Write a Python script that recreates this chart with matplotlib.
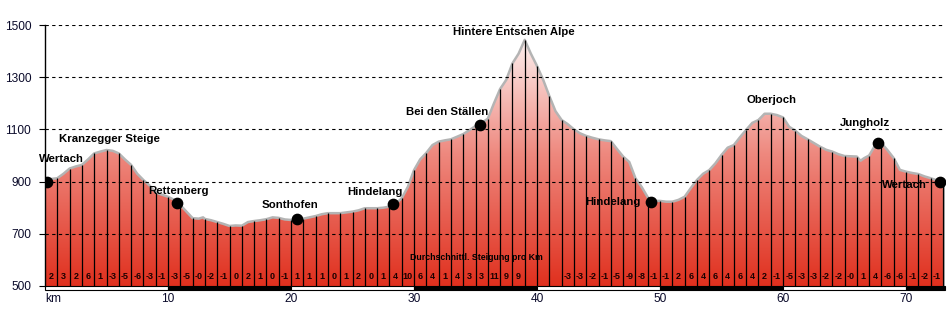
import numpy as np
import matplotlib
matplotlib.use("Agg")
import matplotlib.pyplot as plt
from matplotlib.colors import LinearSegmentedColormap
from matplotlib.patches import Polygon, Rectangle

plt.rcParams['font.family'] = ['Liberation Sans', 'DejaVu Sans']

# elevation profile (km, m)
km = [0.0, 0.5, 1.0, 1.5, 2.0, 2.5, 3.0, 3.5, 4.0, 4.5, 5.0, 5.5, 6.0, 6.5, 7.0, 7.5,
      8.0, 8.5, 9.0, 9.5, 10.0, 10.5, 11.0, 11.5, 12.0, 12.5, 12.85, 13.0, 13.5, 14.0,
      14.5, 15.0, 15.5, 16.0, 16.5, 17.0, 17.5, 18.0, 18.5, 19.0, 19.5, 20.0, 20.5,
      21.0, 21.5, 22.0, 22.5, 23.0, 23.5, 24.0, 24.5, 25.0, 25.5, 26.0, 26.5, 27.0,
      27.5, 28.0, 28.5, 29.0, 29.5, 30.0, 30.5, 31.0, 31.5, 32.0, 32.5, 33.0, 33.5,
      34.0, 34.5, 35.0, 35.5, 36.0, 36.5, 37.0, 37.5, 38.0, 38.5, 39.0, 39.5, 40.0,
      40.5, 41.0, 41.5, 42.0, 42.5, 43.0, 43.5, 44.0, 44.5, 45.0, 45.5, 46.0, 46.5,
      47.0, 47.5, 48.0, 48.5, 49.0, 49.5, 50.0, 50.5, 51.0, 51.5, 52.0, 52.5, 53.0,
      53.5, 54.0, 54.5, 55.0, 55.5, 56.0, 56.5, 57.0, 57.5, 58.0, 58.5, 59.0, 59.5,
      60.0, 60.5, 61.0, 61.5, 62.0, 62.5, 63.0, 63.5, 64.0, 64.5, 65.0, 65.5, 66.0,
      66.3, 66.6, 67.0, 67.5, 68.0, 68.5, 69.0, 69.5, 70.0, 70.5, 71.0, 71.5, 72.0,
      72.5, 73.1]
elev = [905, 910, 913, 930, 950, 958, 964, 985, 1008, 1015, 1021, 1018, 1008, 985, 964, 930,
        906, 885, 858, 850, 842, 830, 810, 785, 760, 758, 763, 757, 752, 745,
        738, 730, 732, 731, 745, 749, 752, 756, 763, 761, 755, 753, 752,
        758, 763, 768, 775, 779, 779, 779, 782, 785, 790, 798, 798, 798,
        800, 804, 815, 836, 880, 944, 985, 1010, 1040, 1053, 1058, 1062, 1072,
        1082, 1097, 1113, 1125, 1141, 1200, 1255, 1290, 1353, 1390, 1443, 1390, 1343,
        1290, 1228, 1170, 1136, 1120, 1100, 1085, 1075, 1068, 1062, 1058, 1055, 1025,
        996, 975, 913, 880, 840, 826, 826, 823, 823, 830, 842, 875, 906,
        930, 944, 970, 1002, 1030, 1040, 1070, 1098, 1125, 1136, 1160, 1160, 1155,
        1146, 1110, 1095, 1075, 1062, 1048, 1034, 1022, 1015, 1005, 998, 997, 996,
        980, 990, 1000, 1040, 1047, 1020, 990, 945, 938, 933, 929, 920, 913,
        905, 900]

# average gradient per km (%), blank where not printed
grades = ['2', '3', '2', '6', '1', '-3', '-5', '-6', '-3', '-1',
          '-3', '-5', '-0', '-2', '-1', '0', '2', '1', '0', '-1',
          '1', '1', '1', '0', '1', '2', '0', '1', '4', '10',
          '6', '4', '1', '4', '3', '3', '11', '9', '9', '',
          '', '', '-3', '-3', '-2', '-1', '-5', '-9', '-8', '-1',
          '-1', '2', '6', '4', '6', '4', '6', '4', '2', '-1',
          '-5', '-3', '-3', '-2', '-2', '-0', '1', '4', '-6', '-6',
          '-1', '-2', '-1']

# places with a marker
places = ['Wertach', 'Rettenberg', 'Sonthofen', 'Hindelang', 'Bei den Ställen',
          'Hindelang', 'Jungholz', 'Wertach']
place_km = [0.2, 10.7, 20.5, 28.3, 35.4, 49.3, 67.7, 72.8]
place_elev = [900, 817, 756, 814, 1117, 823, 1049, 897]
# label offsets in points (style)
place_off = [(10, 16), (1, 9), (-5, 10), (-13, 9), (-24, 9), (-8, 0), (-9, 14), (-26, -2)]
place_ha = ['center', 'center', 'center', 'center', 'center', 'right', 'center', 'center']

# summit names without marker
summits = ['Kranzegger Steige', 'Hintere Entschen Alpe', 'Oberjoch']
summit_km = [5.2, 38.1, 59.1]
summit_elev = [1063, 1473, 1213]

km = np.array(km)
elev = np.array(elev)
xmax = 73.2

fig = plt.figure(figsize=(9.48, 3.09), dpi=100)
ax = fig.add_axes([45 / 948, 23 / 309, (945.4 - 45) / 948, 261 / 309])
ax.set_xlim(0, xmax)
ax.set_ylim(500, 1500)

# gradient fill clipped to profile
cmap = LinearSegmentedColormap.from_list(
    'prof', [(0.0, '#e0301e'), (0.5, '#ee877d'), (1.0, '#fffcfc')])
grad = np.linspace(0, 1, 256).reshape(-1, 1)
im = ax.imshow(grad, cmap=cmap, origin='lower', aspect='auto',
               extent=[0, km[-1], 500, 1500], zorder=1)
poly_xy = np.column_stack([np.r_[km[0], km, km[-1]], np.r_[500, elev, 500]])
poly = Polygon(poly_xy, closed=True, facecolor='none', edgecolor='none')
ax.add_patch(poly)
im.set_clip_path(poly)

# outline
ax.plot(np.r_[km, km[-1]], np.r_[elev, 500], color='#b4b4b4', lw=1.8, zorder=3,
        solid_joinstyle='round')

# km lines
ks = np.arange(1, int(km[-1]) + 1)
ax.vlines(ks, 500, np.interp(ks, km, elev), color='black', lw=0.9, zorder=4)

# grid
for g in [700, 900, 1100, 1300, 1500]:
    ax.axhline(g, color='black', lw=0.8, ls=(0, (3, 3)), zorder=5)

# gradient labels
for i, t in enumerate(grades):
    ax.text(i + 0.5, 538, t, ha='center', va='center', fontsize=6.5,
            fontweight='bold', color='#1a0000', zorder=6)
ax.text(35.1, 611, 'Durchschnittl. Steigung pro Km', ha='center', va='center',
        fontsize=6.3, fontweight='bold', color='black', zorder=6)

# places
ax.scatter(place_km, place_elev, s=55, color='black', zorder=7)
for name, x, y, off, ha in zip(places, place_km, place_elev, place_off, place_ha):
    ax.annotate(name, (x, y), xytext=off, textcoords='offset points',
                ha=ha, va='center', fontsize=8.2, fontweight='bold', zorder=8)
for name, x, y in zip(summits, summit_km, summit_elev):
    ax.text(x, y, name, ha='center', va='center', fontsize=8.2,
            fontweight='bold', zorder=8)

# distance bar under the axis
for s in range(0, 80, 10):
    e = min(s + 10, xmax)
    fc = 'white' if (s // 10) % 2 == 0 else 'black'
    ax.add_patch(Rectangle((s, 500 - 16), e - s, 16, facecolor=fc,
                           edgecolor='black', lw=0.8, clip_on=False, zorder=6))

for sp in ['top', 'right', 'bottom']:
    ax.spines[sp].set_visible(False)
ax.spines['left'].set_linewidth(1.0)
ax.spines['left'].set_zorder(6)

ax.set_yticks([500, 700, 900, 1100, 1300, 1500])
ax.tick_params(axis='y', length=4, width=0.8, pad=6, labelsize=8.6,
               labelcolor='#0a0a2a')
ax.set_xticks(range(0, 80, 10))
ax.set_xticklabels(['km'] + [str(v) for v in range(10, 80, 10)])
ax.tick_params(axis='x', length=0, pad=5, labelsize=8.6, labelcolor='#0a0a2a')
ax.get_xticklabels()[0].set_ha('left')

fig.savefig('out.png', dpi=100)
